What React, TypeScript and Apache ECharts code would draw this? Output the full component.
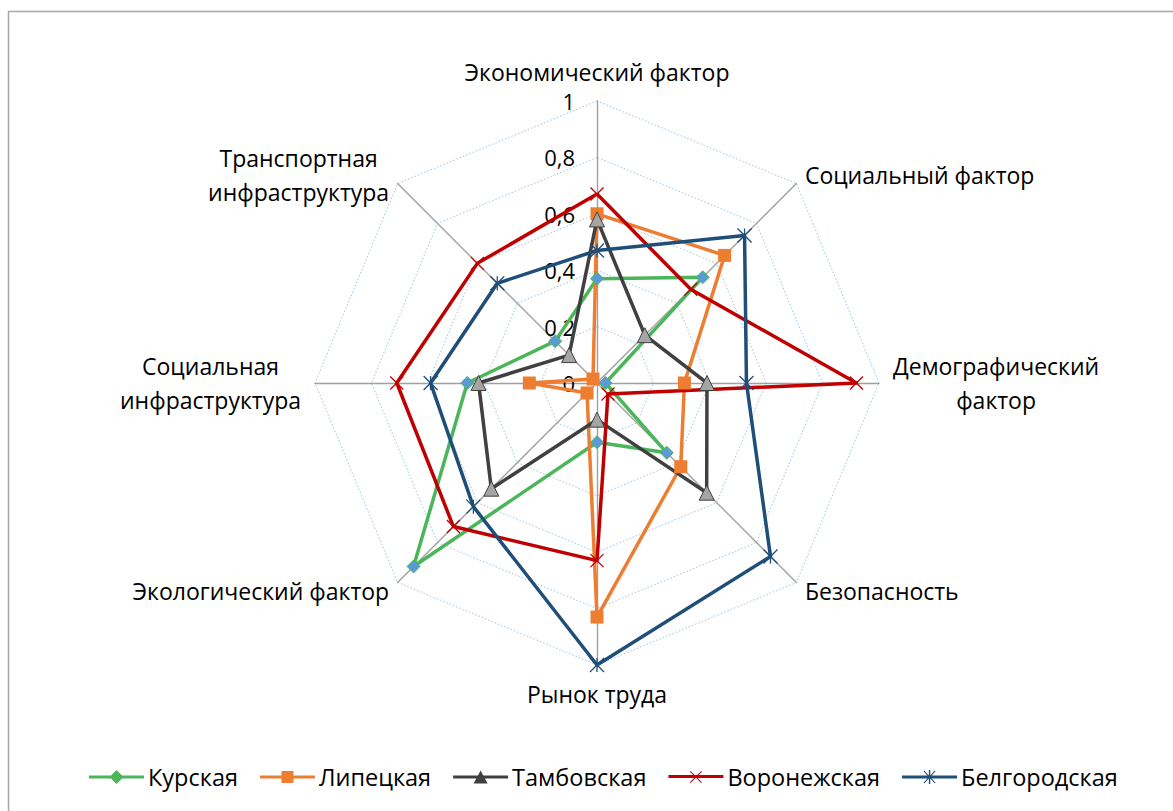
import React, { useEffect, useRef } from 'react';
import * as echarts from 'echarts';

// Axes, clockwise from the top
const categories = [
  'Экономический фактор',
  'Социальный фактор',
  'Демографический фактор',
  'Безопасность',
  'Рынок труда',
  'Экологический фактор',
  'Социальная инфраструктура',
  'Транспортная инфраструктура',
];
const categoryLabels = [
  ['Экономический фактор'],
  ['Социальный фактор'],
  ['Демографический', 'фактор'],
  ['Безопасность'],
  ['Рынок труда'],
  ['Экологический фактор'],
  ['Социальная', 'инфраструктура'],
  ['Транспортная', 'инфраструктура'],
];

const seriesNames = ['Курская', 'Липецкая', 'Тамбовская', 'Воронежская', 'Белгородская'];
const kursk = [0.37, 0.53, 0.03, 0.35, 0.21, 0.92, 0.46, 0.21];
const lipetsk = [0.6, 0.64, 0.31, 0.42, 0.83, 0.05, 0.24, 0.02];
const tambov = [0.58, 0.24, 0.39, 0.55, 0.13, 0.53, 0.42, 0.14];
const voronezh = [0.67, 0.47, 0.92, 0.055, 0.63, 0.72, 0.71, 0.6];
const belgorod = [0.47, 0.74, 0.53, 0.87, 1.0, 0.62, 0.59, 0.5];
const seriesValues = [kursk, lipetsk, tambov, voronezh, belgorod];

const axisMin = 0;
const axisMax = 1;
const splitCount = 5;

const FONT = 'Open Sans';
const CX = 597;
const CY = 383;
const R = 282;

const lineColors = ['#4BB559', '#ED7D31', '#404040', '#C00000', '#1F4E79'];

const X_PATH = 'path://M0,0L10,10M10,0L0,10';
const STAR_PATH = 'path://M5,0L5,10M0,0L10,10M10,0L0,10';

const markerStyles: any[] = [
  { symbol: 'diamond', symbolSize: 13, itemStyle: { color: '#5B9BD5', borderColor: '#4BB559', borderWidth: 1 } },
  { symbol: 'rect', symbolSize: 13, itemStyle: { color: '#ED7D31', borderColor: '#ED7D31', borderWidth: 0 } },
  { symbol: 'triangle', symbolSize: 15, itemStyle: { color: '#A5A5A5', borderColor: '#404040', borderWidth: 1 } },
  { symbol: X_PATH, symbolSize: 13, itemStyle: { color: 'none', borderColor: '#C00000', borderWidth: 1.3 } },
  { symbol: STAR_PATH, symbolSize: 14, itemStyle: { color: 'none', borderColor: '#1F4E79', borderWidth: 1.3 } },
];

const LINE = 'M0,5.5H55V8.5H0Z';
const legendIcons = [
  'path://' + LINE + 'M27.5,0L34.5,7L27.5,14L20.5,7Z',
  'path://' + LINE + 'M21.5,1H33.5V13H21.5Z',
  'path://' + LINE + 'M27.5,0.5L34.5,13.5H20.5Z',
  'path://' + LINE + 'M21.5,2.2L22.2,1.5L33.5,12.8L32.8,13.5ZM32.8,1.5L33.5,2.2L22.2,13.5L21.5,12.8Z',
  'path://' + LINE + 'M21.5,1.2L22.2,0.5L33.5,12.8L32.8,13.5ZM32.8,0.5L33.5,1.2L22.2,13.5L21.5,12.8ZM26.8,0H28.2V14H26.8Z',
];

// ECharts lays radar indicators out counter-clockwise; map clockwise order onto it
const ccwOrder = [0, 7, 6, 5, 4, 3, 2, 1];

function fmt(v: number) {
  return String(Math.round(v * 10) / 10).replace('.', ',');
}

export default function App() {
  const ref = useRef<HTMLDivElement>(null);
  useEffect(() => {
    document.body.style.margin = '0';
    const chart = echarts.init(ref.current!, undefined, { renderer: 'svg' });

    const labelGraphics = categoryLabels.map((lines, k) => {
      const a = (k * Math.PI) / 4;
      const dx = Math.sin(a);
      const dy = -Math.cos(a);
      let gap = 12;
      if (Math.abs(dx) < 0.1) gap = 29;
      else if (Math.abs(dy) < 0.1) gap = 14;
      const align = dx > 0.1 ? 'left' : dx < -0.1 ? 'right' : 'center';
      return {
        type: 'text',
        x: CX + (R + gap) * dx,
        y: CY + (R + gap) * dy,
        style: {
          text: lines.map((l) => '{c|' + l + '}').join('\n'),
          align,
          verticalAlign: 'middle',
          fill: '#000',
          fontFamily: FONT,
          fontSize: 23,
          rich: { c: { align: 'center', fontFamily: FONT, fontSize: 23, lineHeight: 34, fill: '#000' } },
        },
      };
    });

    const option: any = {
      animation: false,
      backgroundColor: '#fff',
      graphic: [
        {
          type: 'rect',
          shape: { x: 8.5, y: 11.5, width: 1300, height: 1000 },
          style: { fill: 'none', stroke: '#A6A6A6', lineWidth: 1.5 },
          silent: true,
        },
        ...labelGraphics,
      ],
      legend: {
        left: 84,
        top: 760,
        itemWidth: 55,
        itemHeight: 14,
        itemGap: 22,
        textStyle: { fontFamily: FONT, fontSize: 23.5, color: '#000', padding: [0, 0, 0, -1] },
        data: seriesNames.map((n, i) => ({ name: n, icon: legendIcons[i], itemStyle: { color: lineColors[i], borderWidth: 0 } })),
        selectedMode: false,
      },
      radar: {
        center: [CX, CY],
        radius: R,
        startAngle: 90,
        shape: 'polygon',
        splitNumber: splitCount,
        indicator: ccwOrder.map((k, i) => {
          const ind: any = { name: categories[k], min: axisMin, max: axisMax };
          if (i === 0) ind.axisLabel = { show: true };
          return ind;
        }),
        axisName: { show: false },
        axisLine: { lineStyle: { color: '#A0A0A0', width: 1.4 } },
        splitLine: { lineStyle: { color: '#9DC3E6', width: 1, type: [1.5, 2] } },
        splitArea: { show: false },
        axisTick: { show: false },
        axisLabel: {
          show: false,
          fontFamily: FONT,
          fontSize: 22,
          color: '#000',
          margin: 22,
          showMinLabel: true,
          showMaxLabel: true,
          formatter: (v: number) => fmt(v),
        },
      },
      series: [
        {
          type: 'radar',
          data: seriesNames.map((n, i) => ({
            name: n,
            value: ccwOrder.map((k) => seriesValues[i][k]),
            symbol: markerStyles[i].symbol,
            symbolSize: markerStyles[i].symbolSize,
            itemStyle: markerStyles[i].itemStyle,
            lineStyle: { color: lineColors[i], width: 3.5 },
          })),
        },
      ],
    };
    chart.setOption(option);
    return () => chart.dispose();
  }, []);
  return <div ref={ref} style={{ width: 1173, height: 811 }} />;
}
